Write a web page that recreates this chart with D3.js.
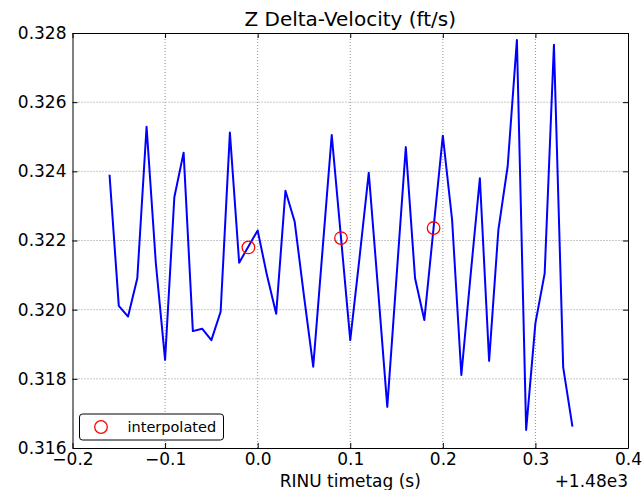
<!DOCTYPE html>
<html><head><meta charset="utf-8">
<script src="https://d3js.org/d3.v7.min.js"></script>
<style>
    body { margin: 0; background: #fff; font-family: "DejaVu Sans", sans-serif; }
    svg { display: block; }
</style>
</head>
<body>
<svg id="chart"></svg>
<script>
    // timetag offsets from 1480 s
    let timetags = [-0.16, -0.15, -0.14, -0.13, -0.12, -0.11, -0.10, -0.09, -0.08, -0.07,
                    -0.06, -0.05, -0.04, -0.03, -0.02, 0.00, 0.01, 0.02, 0.03, 0.04,
                    0.05, 0.06, 0.07, 0.08, 0.10, 0.11, 0.12, 0.13, 0.14, 0.15,
                    0.16, 0.17, 0.18, 0.20, 0.21, 0.22, 0.23, 0.24, 0.25, 0.26,
                    0.27, 0.28, 0.29, 0.30, 0.31, 0.32, 0.33, 0.34];
    let deltaV = [0.3239, 0.32011, 0.3198, 0.32091, 0.32529, 0.32135, 0.31855, 0.32325, 0.32454, 0.31938,
                  0.31945, 0.31912, 0.31994, 0.32512, 0.32136, 0.32229, 0.3210, 0.31988, 0.32344, 0.32254,
                  0.3204, 0.31835, 0.3217, 0.32505, 0.31912, 0.3215, 0.32396, 0.3206, 0.31719, 0.32095,
                  0.3247, 0.32091, 0.3197, 0.32503, 0.3226, 0.31811, 0.3210, 0.3238, 0.31852, 0.32231,
                  0.32414, 0.3278, 0.31652, 0.31961, 0.32105, 0.32766, 0.31833, 0.31662];
    let interpTimes = [-0.01, 0.09, 0.19];
    let interpValues = [0.3218, 0.32207, 0.32236];
    let xTicks = [-0.2, -0.1, 0.0, 0.1, 0.2, 0.3, 0.4];
    let yTicks = [0.316, 0.318, 0.320, 0.322, 0.324, 0.326, 0.328];

    function getConfig() {
        let width = 644, height = 490;
        let margin = {top: 33, bottom: 42, left: 72.5, right: 16};
        let bodyWidth = width - margin.left - margin.right;
        let bodyHeight = height - margin.top - margin.bottom;
        let container = d3.select('#chart').attr('width', width).attr('height', height);
        return {width, height, margin, bodyWidth, bodyHeight, container};
    }

    function getScales(config) {
        let xScale = d3.scaleLinear().domain([-0.2, 0.4]).range([0, config.bodyWidth]);
        let yScale = d3.scaleLinear().domain([0.316, 0.328]).range([config.bodyHeight, 0]);
        return {xScale, yScale};
    }

    function drawChart() {
        let config = getConfig();
        let {margin, bodyWidth, bodyHeight, container} = config;
        let {xScale, yScale} = getScales(config);
        let body = container.append('g').attr('transform', `translate(${margin.left},${margin.top})`);

        // grid
        body.append('g').selectAll('line').data(xTicks.slice(1, -1)).enter().append('line')
            .attr('x1', d => xScale(d)).attr('x2', d => xScale(d))
            .attr('y1', 0).attr('y2', bodyHeight)
            .attr('stroke', '#777').attr('stroke-width', 0.8).attr('stroke-dasharray', '1,2');
        body.append('g').selectAll('line').data(yTicks.slice(1, -1)).enter().append('line')
            .attr('y1', d => yScale(d)).attr('y2', d => yScale(d))
            .attr('x1', 0).attr('x2', bodyWidth)
            .attr('stroke', '#777').attr('stroke-width', 0.8).attr('stroke-dasharray', '1,2');

        // axes, ticks inward on all sides
        let fmtX = d => d3.format('.1f')(d).replace('-', '\u2212');
        let fmtY = d3.format('.3f');
        let bottom = body.append('g').attr('transform', `translate(0,${bodyHeight})`)
            .call(d3.axisBottom(xScale).tickValues(xTicks).tickFormat(fmtX).tickSizeInner(-5).tickSizeOuter(0).tickPadding(4.5));
        let top = body.append('g')
            .call(d3.axisTop(xScale).tickValues(xTicks).tickFormat('').tickSizeInner(-5).tickSizeOuter(0));
        let left = body.append('g')
            .call(d3.axisLeft(yScale).tickValues(yTicks).tickFormat(fmtY).tickSizeInner(-5).tickSizeOuter(0).tickPadding(6));
        let right = body.append('g').attr('transform', `translate(${bodyWidth},0)`)
            .call(d3.axisRight(yScale).tickValues(yTicks).tickFormat('').tickSizeInner(-5).tickSizeOuter(0));
        [bottom, top, left, right].forEach(a => {
            a.select('.domain').attr('stroke', '#000').attr('stroke-width', 1);
            a.selectAll('.tick line').attr('stroke', '#000');
            a.selectAll('text').attr('font-family', '"DejaVu Sans", sans-serif').attr('font-size', 17).attr('fill', '#000');
        });

        // data line
        let points = timetags.map((t, i) => ({t: t, v: deltaV[i]}));
        let line = d3.line().x(d => xScale(d.t)).y(d => yScale(d.v));
        body.append('path').datum(points)
            .attr('d', line).attr('fill', 'none')
            .attr('stroke', '#0000ff').attr('stroke-width', 2).attr('stroke-linejoin', 'round');

        // interpolated markers
        let interp = interpTimes.map((t, i) => ({t: t, v: interpValues[i]}));
        body.append('g').selectAll('circle').data(interp).enter().append('circle')
            .attr('cx', d => xScale(d.t)).attr('cy', d => yScale(d.v)).attr('r', 6.3)
            .attr('fill', 'none').attr('stroke', '#ff0000').attr('stroke-width', 1.3);

        // legend
        let legend = body.append('g').attr('transform', 'translate(7,381)');
        legend.append('rect').attr('width', 144).attr('height', 26).attr('rx', 3)
            .attr('fill', '#fff').attr('stroke', '#000').attr('stroke-width', 1);
        legend.append('circle').attr('cx', 21.5).attr('cy', 13).attr('r', 6.3)
            .attr('fill', 'none').attr('stroke', '#ff0000').attr('stroke-width', 1.3);
        legend.append('text').attr('x', 48).attr('y', 18).text('interpolated')
            .attr('font-size', 14.5).attr('fill', '#000');

        // title and labels
        container.append('text').attr('x', margin.left + bodyWidth / 2).attr('y', 26)
            .attr('text-anchor', 'middle').attr('font-size', 20).text('Z Delta-Velocity (ft/s)');
        container.append('text').attr('x', margin.left + bodyWidth / 2).attr('y', 487)
            .attr('text-anchor', 'middle').attr('font-size', 17).text('RINU timetag (s)');
        container.append('text').attr('x', margin.left + bodyWidth).attr('y', 487)
            .attr('text-anchor', 'end').attr('font-size', 17).text('+1.48e3');
    }

    drawChart();
</script>
</body>
</html>
